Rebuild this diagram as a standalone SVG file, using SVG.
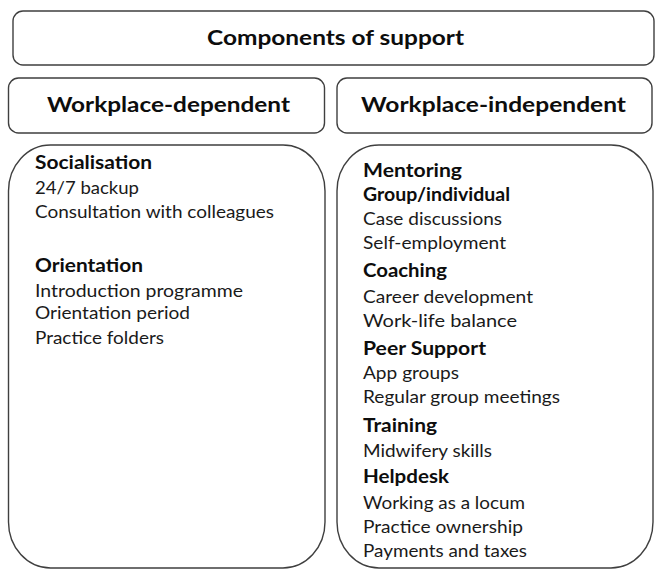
<svg xmlns="http://www.w3.org/2000/svg" width="655" height="570" viewBox="0 0 655 570">
<style>
.box{fill:#fff;stroke:#3f3f3f;stroke-width:1.4}
.h{font-family:Lato,"Open Sans","Liberation Sans",sans-serif;font-weight:bold;font-size:21.5px;fill:#0d0d0d}
.b{font-family:Lato,"Open Sans","Liberation Sans",sans-serif;font-weight:bold;font-size:18.5px;fill:#0d0d0d}
.t{font-family:Lato,"Open Sans","Liberation Sans",sans-serif;font-size:17px;fill:#1a1a1a}
</style>
<rect width="655" height="570" fill="#fff"/>
<g id="components">
<rect class="box" x="13" y="11" width="641" height="54" rx="10" ry="10"/>
<text class="h" x="207" y="45" textLength="257" lengthAdjust="spacingAndGlyphs">Components of support</text>
</g>
<g id="workplace-dependent">
<rect class="box" x="8.5" y="78" width="316" height="55" rx="10" ry="10"/>
<text class="h" x="47" y="112" textLength="243" lengthAdjust="spacingAndGlyphs">Workplace-dependent</text>
</g>
<g id="workplace-independent">
<rect class="box" x="337" y="78" width="315" height="55" rx="10" ry="10"/>
<text class="h" x="361" y="112" textLength="265" lengthAdjust="spacingAndGlyphs">Workplace-independent</text>
</g>
<g id="dependent-list">
<rect class="box" x="8.5" y="145" width="316.5" height="423" rx="42" ry="46"/>
<text class="b" x="35" y="169" textLength="117" lengthAdjust="spacingAndGlyphs">Socialisation</text>
<text class="t" x="35" y="194" textLength="104" lengthAdjust="spacingAndGlyphs">24/7 backup</text>
<text class="t" x="35" y="218" textLength="239" lengthAdjust="spacingAndGlyphs">Consultation with colleagues</text>
<text class="b" x="35" y="272" textLength="108" lengthAdjust="spacingAndGlyphs">Orientation</text>
<text class="t" x="35" y="297" textLength="208" lengthAdjust="spacingAndGlyphs">Introduction programme</text>
<text class="t" x="35" y="319" textLength="155" lengthAdjust="spacingAndGlyphs">Orientation period</text>
<text class="t" x="35" y="344" textLength="129" lengthAdjust="spacingAndGlyphs">Practice folders</text>
</g>
<g id="independent-list">
<rect class="box" x="337" y="145" width="316" height="423" rx="42" ry="46"/>
<text class="b" x="363" y="177" textLength="99" lengthAdjust="spacingAndGlyphs">Mentoring</text>
<text class="b" x="363" y="201" textLength="147" lengthAdjust="spacingAndGlyphs">Group/individual</text>
<text class="t" x="363" y="225" textLength="139" lengthAdjust="spacingAndGlyphs">Case discussions</text>
<text class="t" x="363" y="249" textLength="143" lengthAdjust="spacingAndGlyphs">Self-employment</text>
<text class="b" x="363" y="277" textLength="84" lengthAdjust="spacingAndGlyphs">Coaching</text>
<text class="t" x="363" y="303" textLength="170" lengthAdjust="spacingAndGlyphs">Career development</text>
<text class="t" x="363" y="327" textLength="154" lengthAdjust="spacingAndGlyphs">Work-life balance</text>
<text class="b" x="363" y="355" textLength="123" lengthAdjust="spacingAndGlyphs">Peer Support</text>
<text class="t" x="363" y="379" textLength="96" lengthAdjust="spacingAndGlyphs">App groups</text>
<text class="t" x="363" y="403" textLength="197" lengthAdjust="spacingAndGlyphs">Regular group meetings</text>
<text class="b" x="363" y="432" textLength="74" lengthAdjust="spacingAndGlyphs">Training</text>
<text class="t" x="363" y="457" textLength="129" lengthAdjust="spacingAndGlyphs">Midwifery skills</text>
<text class="b" x="363" y="483" textLength="86" lengthAdjust="spacingAndGlyphs">Helpdesk</text>
<text class="t" x="363" y="509" textLength="162" lengthAdjust="spacingAndGlyphs">Working as a locum</text>
<text class="t" x="363" y="533" textLength="160" lengthAdjust="spacingAndGlyphs">Practice ownership</text>
<text class="t" x="363" y="557" textLength="164" lengthAdjust="spacingAndGlyphs">Payments and taxes</text>
</g>
</svg>
